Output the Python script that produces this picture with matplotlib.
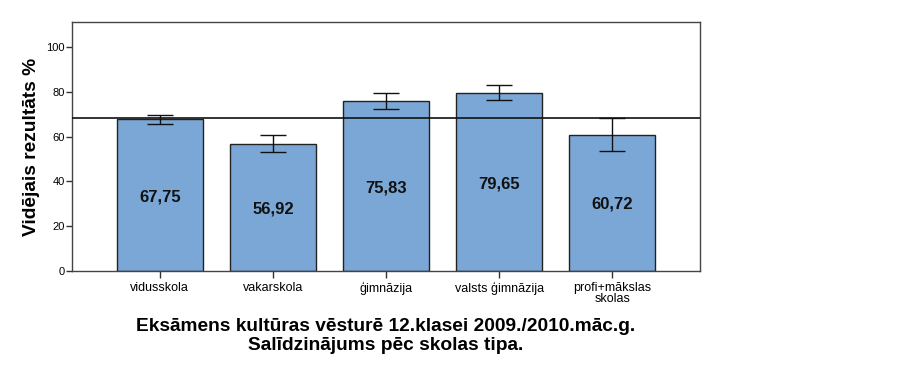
import numpy as np
import matplotlib.pyplot as plt

plt.rcParams['font.family'] = ['Liberation Sans', 'DejaVu Sans']

categories = ['vidusskola', 'vakarskola', 'ģimnāzija', 'valsts ģimnāzija', 'profi+mākslas\nskolas']
means = [67.75, 56.92, 75.83, 79.65, 60.72]
err_low = [65.8, 53.3, 72.5, 76.5, 53.4]
err_high = [69.6, 60.7, 79.6, 83.0, 68.3]
overall_mean = 68.2
yticks = [0, 20, 40, 60, 80, 100]

fig = plt.figure(figsize=(9.23, 3.67), dpi=100)
ax = fig.add_axes([72 / 923, 1 - 271 / 367, (700 - 72) / 923, (271 - 22) / 367])

x = np.arange(len(categories))
m = np.array(means)
yerr = [m - np.array(err_low), np.array(err_high) - m]
ax.bar(x, means, width=0.755, color='#7BA7D7', edgecolor='#222222', linewidth=1.0, zorder=2)
ax.errorbar(x, means, yerr=yerr, fmt='none', ecolor='#111111', elinewidth=1.0,
            capsize=9.7, capthick=1.0, zorder=3)
ax.axhline(overall_mean, color='#111111', linewidth=1.2, zorder=4)

for xi, v in zip(x, means):
    ax.text(xi, v * 0.49, f'{v:.2f}'.replace('.', ','), ha='center', va='center',
            fontsize=12, fontweight='bold', color='#111111', zorder=5)

ax.set_xlim(-0.777, len(categories) - 1 + 0.777)
ax.set_ylim(0, 111.2)
ax.set_yticks(yticks)
ax.set_yticklabels([str(t) for t in yticks], fontsize=8)
ax.set_xticks(x)
ax.set_xticklabels(categories, fontsize=9, linespacing=0.9)
ax.tick_params(axis='y', direction='out', length=4, width=1, color='#333333', pad=1)
ax.tick_params(axis='x', direction='out', length=5, width=1, color='#333333', pad=3)
for s in ax.spines.values():
    s.set_color('#444444')
    s.set_linewidth(1.0)
ax.set_ylabel('Vidējais rezultāts %', fontsize=13.8, fontweight='bold', labelpad=5)

cx = (72 + 700) / 2 / 923
fig.text(cx, 1 - 336 / 367, 'Eksāmens kultūras vēsturē 12.klasei 2009./2010.māc.g.\nSalīdzinājums pēc skolas tipa.',
         ha='center', va='center', fontsize=13.8, fontweight='bold', linespacing=1.1)

fig.savefig('out.png', dpi=100)
